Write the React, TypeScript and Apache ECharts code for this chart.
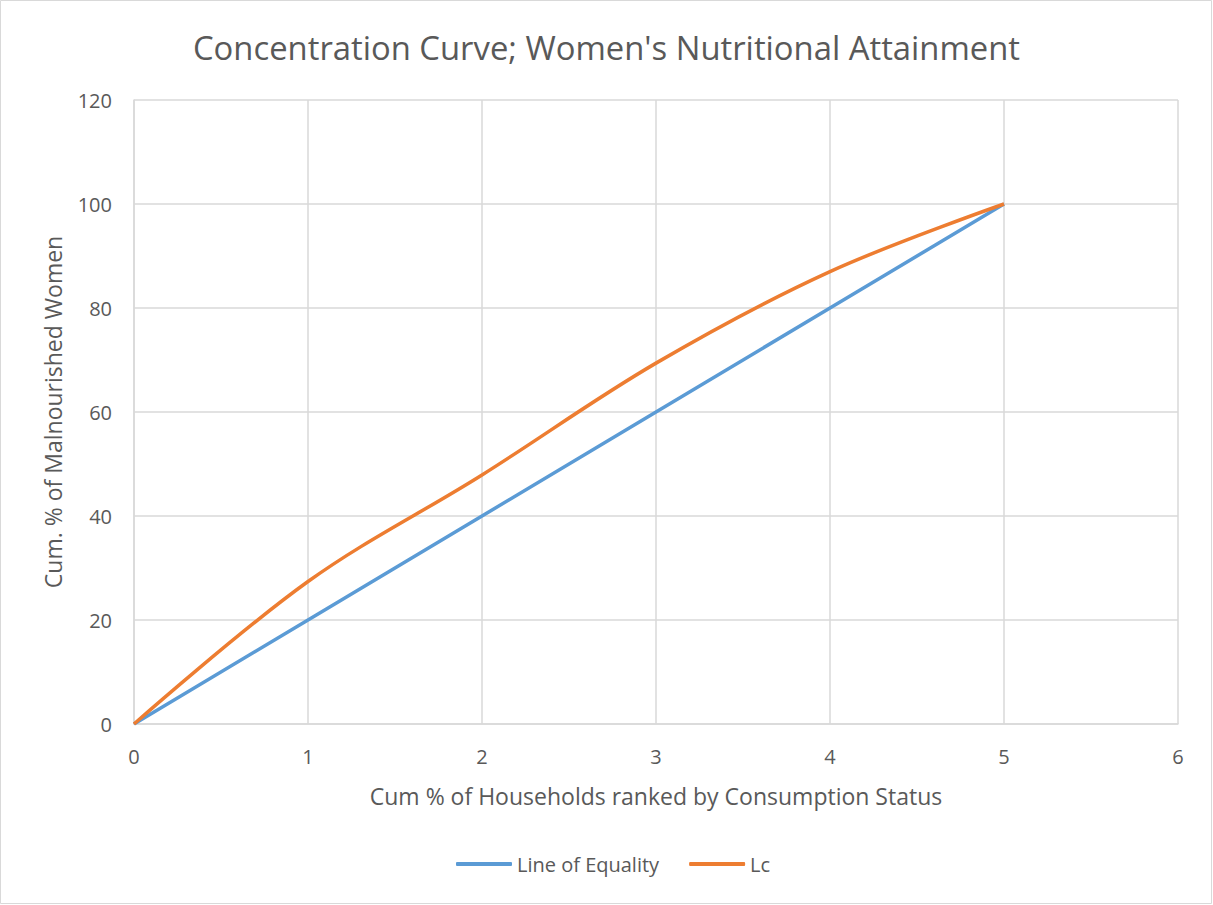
import React, { useEffect, useRef } from "react";
import * as echarts from "echarts";

const xValues = [0, 1, 2, 3, 4, 5];
const equalityValues = [0, 20, 40, 60, 80, 100];
const lcValues = [0, 27.4, 47.9, 69.4, 87.0, 100];
const xTicks = [0, 1, 2, 3, 4, 5, 6];
const yTicks = [0, 20, 40, 60, 80, 100, 120];

export default function App() {
  const ref = useRef<HTMLDivElement>(null);
  useEffect(() => {
    document.body.style.margin = "0";
    const chart = echarts.init(ref.current!, null, { renderer: "svg" });
    const font = "'Open Sans', sans-serif";
    const grey = "#595959";
    const tickRich = { t: { fontFamily: font, fontSize: 20, color: grey } };
    chart.setOption({
      animation: false,
      backgroundColor: "#ffffff",
      title: {
        text: "Concentration Curve; Women's Nutritional Attainment",
        left: "center",
        top: 26,
        textStyle: { fontFamily: font, fontSize: 32.8, fontWeight: "normal", color: grey },
      },
      legend: {
        bottom: 26,
        left: 451,
        itemWidth: 56,
        itemHeight: 4,
        itemGap: 30,
        icon: "roundRect",
        textStyle: { fontFamily: font, fontSize: 20, color: grey },
        data: ["Line of Equality", "Lc"],
      },
      graphic: [
        {
          type: "rect",
          shape: { x: 0.5, y: 0.5, width: 1211, height: 903 },
          style: { fill: "none", stroke: "#d9d9d9", lineWidth: 1 },
          silent: true,
        },
      ],
      grid: { left: 134, right: 35, top: 100, bottom: 181 },
      xAxis: {
        type: "value",
        min: xTicks[0],
        max: xTicks[xTicks.length - 1],
        interval: 1,
        name: "Cum % of Households ranked by Consumption Status",
        nameLocation: "middle",
        nameGap: 60,
        nameTextStyle: { fontFamily: font, fontSize: 23, color: grey },
        axisLine: { show: true, lineStyle: { color: "#d9d9d9", width: 1.5 } },
        axisTick: { show: false },
        axisLabel: {
          fontFamily: font,
          fontSize: 20,
          color: grey,
          margin: 22,
          formatter: (v: number) => "{t|" + v + "}",
          rich: tickRich,
        },
        splitLine: { show: true, lineStyle: { color: "#d9d9d9", width: 1.5 } },
      },
      yAxis: {
        type: "value",
        min: yTicks[0],
        max: yTicks[yTicks.length - 1],
        interval: 20,
        name: "Cum. % of Malnourished Women",
        nameLocation: "middle",
        nameGap: 70,
        nameTextStyle: { fontFamily: font, fontSize: 23, color: grey },
        axisLine: { show: true, lineStyle: { color: "#d9d9d9", width: 1.5 } },
        axisTick: { show: false },
        axisLabel: {
          fontFamily: font,
          fontSize: 20,
          color: grey,
          margin: 22,
          formatter: (v: number) => "{t|" + v + "}",
          rich: tickRich,
        },
        splitLine: { show: true, lineStyle: { color: "#d9d9d9", width: 1.5 } },
      },
      series: [
        {
          name: "Line of Equality",
          type: "line",
          data: xValues.map((x, i) => [x, equalityValues[i]]),
          showSymbol: false,
          symbol: "none",
          color: "#5B9BD5",
          lineStyle: { width: 3.5, color: "#5B9BD5" },
        },
        {
          name: "Lc",
          type: "line",
          data: xValues.map((x, i) => [x, lcValues[i]]),
          smooth: 0.35,
          showSymbol: false,
          symbol: "none",
          color: "#ED7D31",
          lineStyle: { width: 3.5, color: "#ED7D31" },
        },
      ],
    });
    return () => chart.dispose();
  }, []);
  return <div ref={ref} style={{ width: 1213, height: 905 }} />;
}
